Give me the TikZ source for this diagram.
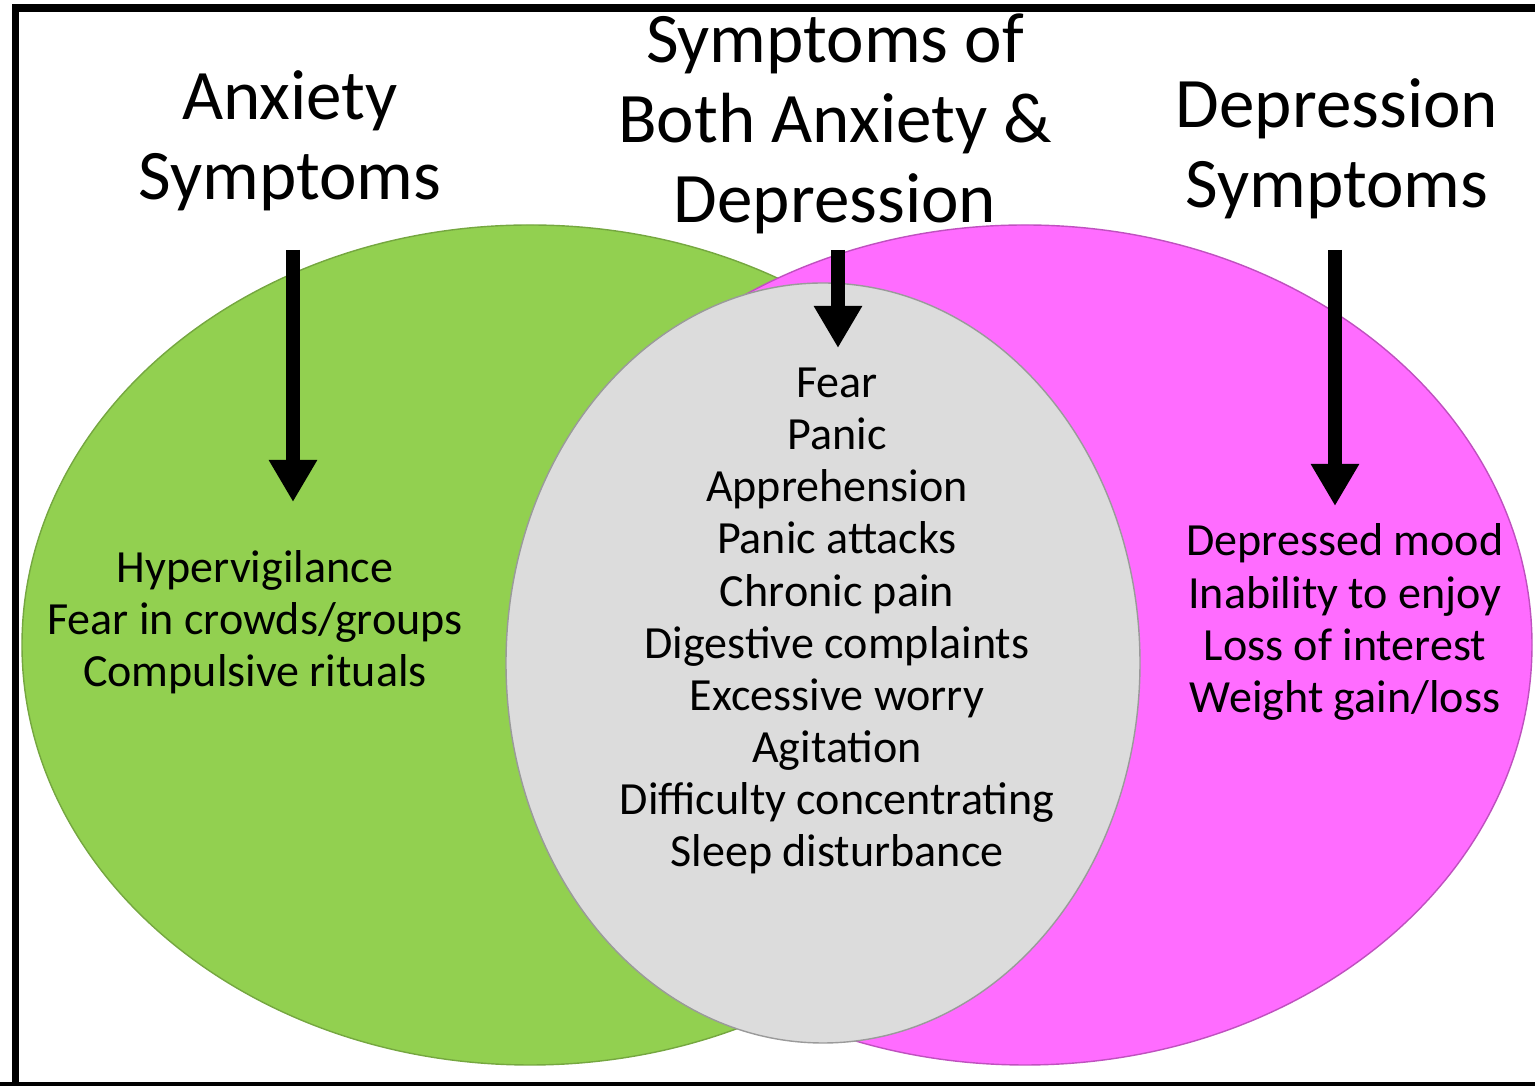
\documentclass[tikz,border=0pt]{standalone}
\usepackage{fontspec}
\setmainfont{Carlito}
\usetikzlibrary{arrows.meta}
\definecolor{anxgreen}{RGB}{146,208,80}
\definecolor{depmagenta}{RGB}{255,108,255}
\definecolor{bothgray}{RGB}{220,220,220}

\tikzset{
  heading/.style={align=center, font=\fontsize{20.2}{22.7}\selectfont},
  symptoms/.style={align=center, font=\fontsize{13.1}{14.8}\selectfont},
  bigarrow/.style={line width=4.2pt, -{Triangle[length=12pt,width=13pt]}}
}

\begin{document}
\begin{tikzpicture}[x=0.01cm, y=-0.01cm]
\useasboundingbox (0,0) rectangle (1535,1086);
% the three sets
\draw[anxgreen!80!black, fill=anxgreen] (530,645) ellipse [x radius=508, y radius=420];
\draw[depmagenta!75!black, fill=depmagenta] (1025,645) ellipse [x radius=507, y radius=420];
\draw[bothgray!70!black, fill=bothgray] (823,663) ellipse [x radius=317, y radius=380];
% frame
\draw[line width=2.2pt] (1560,8) -- (15.5,8) -- (15.5,1100);
\draw[line width=2.2pt] (0,1086) -- (1560,1086);
%
\node[heading](anxhead) at (290,141) {Anxiety\\Symptoms};
\node[heading](bothhead) at (835,124) {Symptoms of\\Both Anxiety \&\\Depression};
\node[heading](dephead) at (1337,149) {Depression\\Symptoms};
%
\node[symptoms](anxlist) at (255,622) {Hypervigilance\\Fear in crowds/groups\\Compulsive rituals};
\node[symptoms](bothlist) at (837,621) {Fear\\Panic\\Apprehension\\Panic attacks\\Chronic pain\\Digestive complaints\\Excessive worry\\Agitation\\Difficulty concentrating\\Sleep disturbance};
\node[symptoms](deplist) at (1345,622) {Depressed mood\\Inability to enjoy\\Loss of interest\\Weight gain/loss};
%
\coordinate(anxfrom) at (293,250);
\coordinate(anxto) at (293,502);
\coordinate(bothfrom) at (838,250);
\coordinate(bothto) at (838,348);
\coordinate(depfrom) at (1335,250);
\coordinate(depto) at (1335,506);
\draw[bigarrow](anxfrom) -- (anxto);
\draw[bigarrow](bothfrom) -- (bothto);
\draw[bigarrow](depfrom) -- (depto);
\end{tikzpicture}
\end{document}
